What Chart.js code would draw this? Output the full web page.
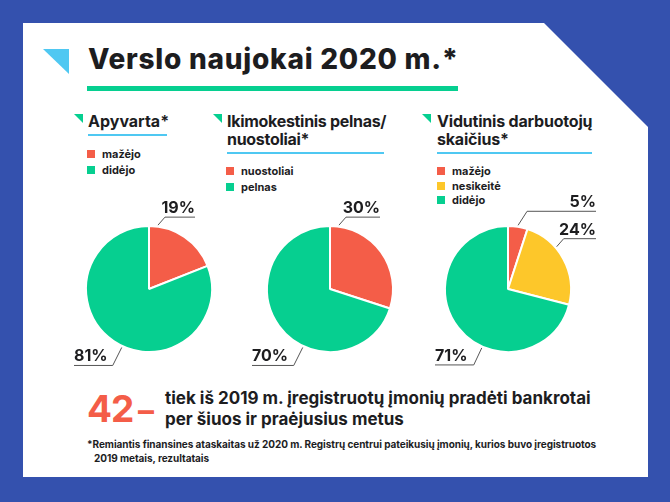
<!DOCTYPE html>
<html><head><meta charset="utf-8">
<script src="https://cdn.jsdelivr.net/npm/chart.js@4"></script>
<style>
html,body{margin:0;padding:0;}
body{width:670px;height:502px;background:#3451ae;position:relative;overflow:hidden;font-family:Inter,"DejaVu Sans",sans-serif;color:#1d1d1f;}
.card{position:absolute;left:0;top:0;width:670px;height:502px;background:#fff;clip-path:polygon(23px 23px,544px 23px,648px 127px,648px 477px,23px 477px);}
.t{position:absolute;white-space:nowrap;line-height:1;font-weight:700;}
.tri{position:absolute;clip-path:polygon(0 0,100% 0,100% 100%);}
.bar{position:absolute;}
.sq{position:absolute;width:8px;height:8px;}
canvas{position:absolute;}
</style></head>
<body>
<div class="card"></div>
<div class="tri" style="left:43px;top:49px;width:26px;height:25px;background:#4fc8f2"></div>
<div class="t" style="left:88px;top:44.8px;font-size:28px;font-weight:800;letter-spacing:0.75px;">Verslo naujokai 2020 m.*</div>
<div class="bar" style="left:87px;top:86px;width:371px;height:5px;background:#06cf90"></div>

<div class="tri" style="left:74px;top:114px;width:9px;height:9px;background:#06cf90"></div>
<div class="t" style="left:88px;top:113.2px;font-size:16px;">Apyvarta*</div>
<div class="bar" style="left:88px;top:134px;width:79px;height:2px;background:#4fc8f2"></div>

<div class="tri" style="left:213px;top:114px;width:9px;height:9px;background:#06cf90"></div>
<div class="t" style="left:227px;top:113.2px;font-size:16px;letter-spacing:-0.3px;">Ikimokestinis pelnas/</div>
<div class="t" style="left:227px;top:131.2px;font-size:16px;letter-spacing:-0.3px;">nuostoliai*</div>
<div class="bar" style="left:227px;top:152px;width:157px;height:2px;background:#4fc8f2"></div>

<div class="tri" style="left:422px;top:114px;width:9px;height:9px;background:#06cf90"></div>
<div class="t" style="left:437px;top:113.2px;font-size:16px;letter-spacing:-0.2px;">Vidutinis darbuotojų</div>
<div class="t" style="left:437px;top:131.2px;font-size:16px;letter-spacing:-0.2px;">skaičius*</div>
<div class="bar" style="left:437px;top:152px;width:155px;height:2px;background:#4fc8f2"></div>

<div id="leg1"></div><div id="leg2"></div><div id="leg3"></div>

<canvas id="c1" width="200" height="190" style="left:49px;top:194px"></canvas>
<canvas id="c2" width="200" height="190" style="left:230px;top:194px"></canvas>
<canvas id="c3" width="200" height="190" style="left:408px;top:194px"></canvas>

<div class="t" style="left:87px;top:390px;font-size:37px;color:#f45d48;letter-spacing:-1px;">42<span style="font-size:32px;letter-spacing:0;word-spacing:-3px;"> –</span></div>
<div class="t" style="left:165px;top:390.3px;font-size:17px;">tiek iš 2019 m. įregistruotų įmonių pradėti bankrotai</div>
<div class="t" style="left:165px;top:411.3px;font-size:17px;">per šiuos ir praėjusius metus</div>
<div class="t" style="left:87px;top:439.4px;font-size:10px;font-weight:700;letter-spacing:-0.05px;">*Remiantis finansines ataskaitas už 2020 m. Registrų centrui pateikusių įmonių, kurios buvo įregistruotos</div>
<div class="t" style="left:94px;top:453.4px;font-size:10px;font-weight:700;letter-spacing:-0.05px;">2019 metais, rezultatais</div>

<script>
// ---- data ----
const apyvartaLabels = ['mažėjo', 'didėjo'];
const apyvartaValues = [19, 81];
const pelnasLabels = ['nuostoliai', 'pelnas'];
const pelnasValues = [30, 70];
const darbuotojuLabels = ['mažėjo', 'nesikeitė', 'didėjo'];
const darbuotojuValues = [5, 24, 71];

// ---- style ----
const RED = '#f45d48', GREEN = '#06cf90', YELLOW = '#fdc72a';
const colors2 = [RED, GREEN];
const colors3 = [RED, YELLOW, GREEN];

function legend(id, labels, cols, x, ys) {
  const host = document.getElementById(id);
  labels.forEach((l, i) => {
    const sq = document.createElement('div');
    sq.className = 'sq';
    sq.style.left = x + 'px'; sq.style.top = (ys[i] - 4) + 'px';
    sq.style.background = cols[i];
    host.appendChild(sq);
    const t = document.createElement('div');
    t.className = 't';
    t.style.left = (x + 15) + 'px'; t.style.top = (ys[i] - 5.5) + 'px';
    t.style.fontSize = '11px';
    t.textContent = l;
    host.appendChild(t);
  });
}
legend('leg1', apyvartaLabels, colors2, 87, [154, 170]);
legend('leg2', pelnasLabels, colors2, 226, [171, 187]);
legend('leg3', darbuotojuLabels, colors3, 437, [171, 186, 200]);

const calloutPlugin = {
  id: 'callouts',
  afterDatasetsDraw(chart, args, opts) {
    const ctx = chart.ctx;
    const meta = chart.getDatasetMeta(0);
    const vals = chart.data.datasets[0].data;
    meta.data.forEach((arc, i) => {
      const c = opts.items[i];
      const a = c.angle * Math.PI / 180;
      const r = arc.outerRadius + 1.5;
      const sx = arc.x + r * Math.sin(a), sy = arc.y - r * Math.cos(a);
      const ex = sx + c.dx, ey = sy + c.dy;
      const hx = arc.x + c.end;
      ctx.save();
      ctx.strokeStyle = '#555'; ctx.lineWidth = 1;
      ctx.beginPath(); ctx.moveTo(sx, sy); ctx.lineTo(ex, ey); ctx.lineTo(hx, ey); ctx.stroke();
      ctx.font = '700 16px Inter';
      ctx.fillStyle = '#1d1d1f';
      ctx.textAlign = c.end > 0 ? 'right' : 'left';
      ctx.textBaseline = 'alphabetic';
      ctx.fillText(vals[i] + '%', hx, ey - 4);
      ctx.restore();
    });
  }
};

function pie(id, labels, values, cols, items) {
  new Chart(document.getElementById(id), {
    type: 'pie',
    data: { labels: labels, datasets: [{ data: values, backgroundColor: cols, borderColor: '#fff', borderWidth: 2 }] },
    options: {
      responsive: false, animation: false,
      layout: { padding: { left: 36, right: 36, top: 31, bottom: 31 } },
      plugins: { legend: { display: false }, tooltip: { enabled: false }, callouts: { items: items } }
    },
    plugins: [calloutPlugin]
  });
}
pie('c1', apyvartaLabels, apyvartaValues, colors2, [
  { angle: 8, dx: 7, dy: -8, end: 46 },
  { angle: 205, dx: -9, dy: 18, end: -75 }
]);
pie('c2', pelnasLabels, pelnasValues, colors2, [
  { angle: 8, dx: 7, dy: -8, end: 50 },
  { angle: 205, dx: -9, dy: 18, end: -78 }
]);
pie('c3', darbuotojuLabels, darbuotojuValues, colors3, [
  { angle: 9, dx: 9, dy: -14, end: 88 },
  { angle: 49, dx: 7, dy: -8, end: 88 },
  { angle: 204, dx: -8, dy: 17, end: -73 }
]);
</script>
</body></html>
